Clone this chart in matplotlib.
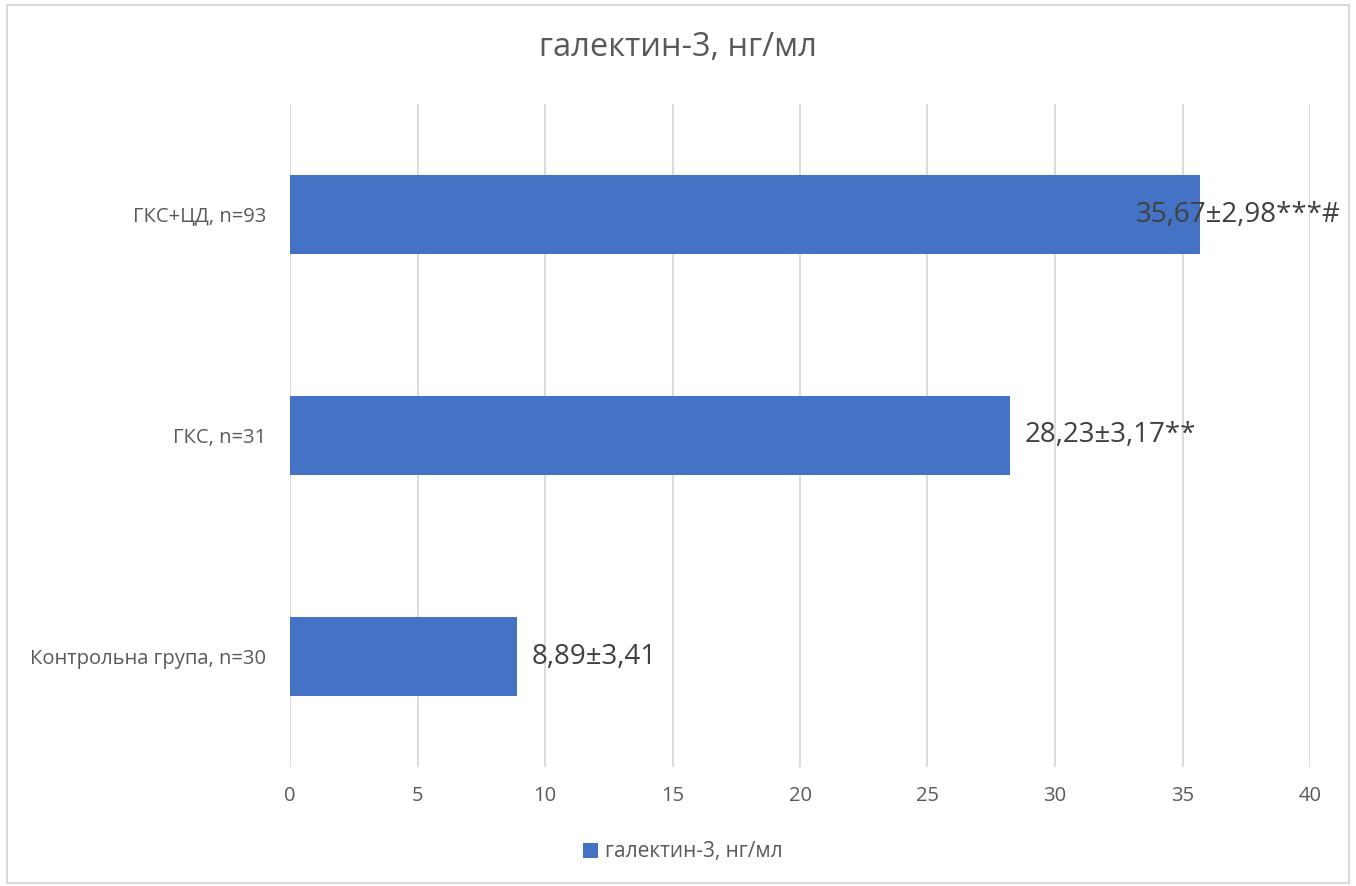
import matplotlib.pyplot as plt
from matplotlib.patches import Rectangle

# Galectin-3 levels by group
groups = ["Контрольна група, n=30", "ГКС, n=31", "ГКС+ЦД, n=93"]
means = [8.89, 28.23, 35.67]
labels = ["8,89±3,41", "28,23±3,17**", "35,67±2,98***#"]
series_name = "галектин-3, нг/мл"
xticks = [0, 5, 10, 15, 20, 25, 30, 35, 40]

plt.rcParams['font.family'] = ['Open Sans', 'DejaVu Sans']

W, H = 1356, 886
fig = plt.figure(figsize=(W / 100, H / 100), dpi=100)
ax = fig.add_axes([290 / W, 1 - 767 / H, 1020 / W, 663 / H])

bar_color = "#4472C4"
bars = ax.barh(range(len(groups)), means, height=0.353, color=bar_color,
               label=series_name, zorder=3)

ax.set_xlim(0, 40)
ax.set_ylim(-0.5, len(groups) - 0.5)
ax.set_xticks(xticks)
ax.set_xticklabels([str(t) for t in xticks])
ax.set_yticks(range(len(groups)))
ax.set_yticklabels(groups)
ax.tick_params(axis='x', length=0, pad=14, labelsize=14.5, labelcolor="#595959")
ax.tick_params(axis='y', length=0, pad=17, labelsize=14.5, labelcolor="#595959")
ax.grid(axis='x', color="#D9D9D9", linewidth=1.3, zorder=0)
for s in ax.spines.values():
    s.set_visible(False)

# value labels at bar ends, pulled back inside the chart if they overflow
fig.canvas.draw()
renderer = fig.canvas.get_renderer()
for i, (v, lab) in enumerate(zip(means, labels)):
    t = ax.annotate(lab, xy=(v, i), xytext=(15, 0), textcoords='offset pixels',
                    ha='left', va='center', fontsize=20, color="#404040", zorder=4)
    bb = t.get_window_extent(renderer)
    limit = W - 15
    if bb.x1 > limit:
        t.set_position((15 - (bb.x1 - limit), 0))

fig.suptitle(series_name, x=0.5, y=1 - 48 / H, va='center', fontsize=23.5,
             color="#595959")

fig.legend(handles=[bars], labels=[series_name], loc='center',
           bbox_to_anchor=(683 / W, 1 - 852 / H), frameon=False, fontsize=15,
           labelcolor="#595959", handlelength=0.7, handleheight=0.7,
           handletextpad=0.35)

# chart frame
fig.patches.append(Rectangle((7 / W, 3 / H), 1342 / W, 878 / H,
                             transform=fig.transFigure, fill=False,
                             edgecolor="#D9D9D9", linewidth=1.5))

fig.savefig("out.png", dpi=100)
